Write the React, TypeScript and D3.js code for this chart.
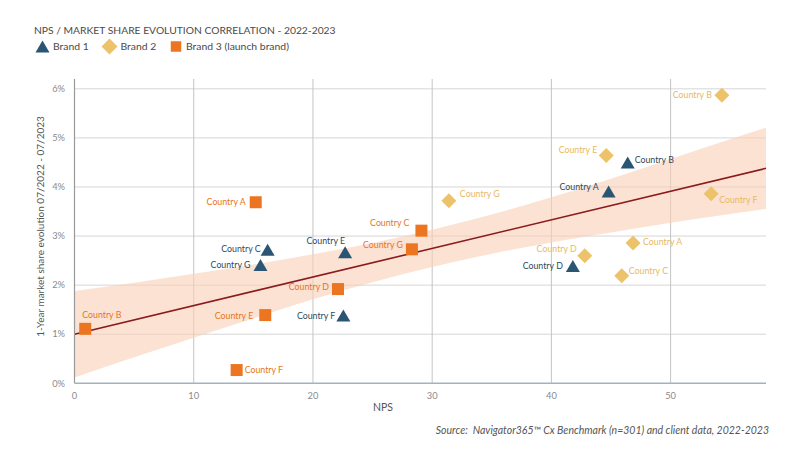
import * as d3 from "d3";

const countries = ["Country A", "Country B", "Country C", "Country D", "Country E", "Country F", "Country G"];

// Brand 1 (triangles)
const brand1Nps = [44.8, 46.4, 16.2, 41.8, 22.7, 22.55, 15.6];
const brand1Share = [3.91, 4.5, 2.72, 2.39, 2.67, 1.38, 2.41];
// Brand 2 (diamonds)
const brand2Nps = [46.85, 54.3, 45.9, 42.8, 44.6, 53.4, 31.4];
const brand2Share = [2.86, 5.87, 2.19, 2.6, 4.64, 3.86, 3.72];
// Brand 3 (squares, launch brand)
const brand3Nps = [15.2, 0.9, 29.1, 22.1, 16.0, 13.6, 28.3];
const brand3Share = [3.69, 1.11, 3.11, 1.92, 1.39, 0.27, 2.73];

// trend line + confidence band
const trendNps = [0, 58];
const trendShare = [1.0, 4.38];
const bandNps = [0, 5, 10, 15, 20, 25, 30, 35, 40, 45, 50, 55, 58];
const bandLow = [0.12, 0.53, 0.93, 1.32, 1.71, 2.06, 2.37, 2.64, 2.87, 3.07, 3.27, 3.45, 3.55];
const bandHigh = [1.88, 2.05, 2.23, 2.42, 2.63, 2.86, 3.13, 3.44, 3.79, 4.17, 4.57, 4.97, 5.21];

const xTicks = [0, 10, 20, 30, 40, 50];
const yTicks = [0, 1, 2, 3, 4, 5, 6];

// label placement per country: [dx, dy, anchor]
type Place = [number, number, "start" | "end"];
const brand1Labels: Place[] = [[-10, -4, "end"], [7, -3, "start"], [-7, -1, "end"], [-10, 0, "end"], [0, -11, "end"], [-8, 0, "end"], [-10, 0, "end"]];
const brand2Labels: Place[] = [[10, -1, "start"], [-10, 0, "end"], [7, -5, "start"], [-8, -7, "end"], [-9, -6, "end"], [8, 6, "start"], [11, -7, "start"]];
const brand3Labels: Place[] = [[-10, 0, "end"], [-3, -14, "start"], [-12, -8, "end"], [-9, -2, "end"], [-12, 1, "end"], [8, 0, "start"], [-9, -4, "end"]];

const BLUE = "#2b5673";
const BLUE_TEXT = "#2d4a5f";
const YELLOW = "#ecc36a";
const YELLOW_TEXT = "#e9b95e";
const ORANGE = "#ec7521";
const ORANGE_TEXT = "#e8741f";
const FONT = "Lato, 'Open Sans', sans-serif";

const triangle = (cx: number, cy: number, w = 14, h = 12) =>
  `M${cx},${cy - h / 2}L${cx + w / 2},${cy + h / 2}L${cx - w / 2},${cy + h / 2}Z`;
const diamond = (cx: number, cy: number, r = 7.5) =>
  `M${cx},${cy - r}L${cx + r},${cy}L${cx},${cy + r}L${cx - r},${cy}Z`;
const square = (cx: number, cy: number, s = 12) =>
  `M${cx - s / 2},${cy - s / 2}h${s}v${s}h${-s}Z`;

export default function App() {
  const width = 800;
  const height = 453;
  const x = d3.scaleLinear().domain([0, 58]).range([74.5, 766]);
  const y = d3.scaleLinear().domain([0, 6.2]).range([383.3, 79]);

  const band = d3
    .area<number>()
    .x((i) => x(bandNps[i]))
    .y0((i) => y(bandLow[i]))
    .y1((i) => y(bandHigh[i]))
    .curve(d3.curveMonotoneX);

  const series = [
    { nps: brand1Nps, share: brand1Share, labels: brand1Labels, shape: triangle, fill: BLUE, text: BLUE_TEXT },
    { nps: brand2Nps, share: brand2Share, labels: brand2Labels, shape: diamond, fill: YELLOW, text: YELLOW_TEXT },
    { nps: brand3Nps, share: brand3Share, labels: brand3Labels, shape: square, fill: ORANGE, text: ORANGE_TEXT },
  ];

  return (
    <div style={{ position: "absolute", left: 0, top: 0 }}>
      <svg width={width} height={height} style={{ display: "block", background: "#fff" }} fontFamily={FONT}>
        {/* title + legend */}
        <text x={34} y={34} fontSize={10.3} fill="#4a4a4a">
          NPS / MARKET SHARE EVOLUTION CORRELATION - 2022-2023
        </text>
        <path d={triangle(42.5, 46.5, 14, 12)} fill={BLUE} />
        <text x={53} y={50.3} fontSize={10.4} fill="#4a4a4a">Brand 1</text>
        <path d={diamond(109.5, 46.5, 8)} fill={YELLOW} />
        <text x={120.5} y={50.3} fontSize={10.4} fill="#4a4a4a">Brand 2</text>
        <path d={square(176, 46.5, 10.5)} fill={ORANGE} />
        <text x={186} y={50.3} fontSize={10.4} fill="#4a4a4a">Brand 3 (launch brand)</text>

        {/* grid */}
        {yTicks.filter((t) => t > 0).map((t) => (
          <line key={"h" + t} x1={x(0)} x2={x(58)} y1={y(t)} y2={y(t)} stroke="#d6d6d6" strokeWidth={1} />
        ))}
        {xTicks.filter((t) => t > 0).map((t) => (
          <line key={"v" + t} x1={x(t)} x2={x(t)} y1={y(6.2)} y2={y(0)} stroke="#c4c4c4" strokeWidth={1} />
        ))}

        {/* confidence band + trend */}
        <path d={band(d3.range(bandNps.length)) ?? ""} fill="#f9cfb6" fillOpacity={0.6} />
        <line
          x1={x(trendNps[0])}
          y1={y(trendShare[0])}
          x2={x(trendNps[1])}
          y2={y(trendShare[1])}
          stroke="#8b1a1d"
          strokeWidth={1.6}
        />

        {/* axes */}
        <line x1={x(0)} x2={x(0)} y1={y(6.2)} y2={y(0)} stroke="#9a9a9a" strokeWidth={1.2} />
        <line x1={x(0)} x2={x(58)} y1={y(0)} y2={y(0)} stroke="#a3b2bf" strokeWidth={1.6} />
        {yTicks.map((t) => (
          <text key={"yt" + t} x={65} y={y(t)} dy="0.35em" textAnchor="end" fontSize={9.3} fill="#8a8a8a">
            {t}%
          </text>
        ))}
        {xTicks.map((t) => (
          <text key={"xt" + t} x={x(t)} y={399} textAnchor="middle" fontSize={9.3} fill="#8a8a8a">
            {t}
          </text>
        ))}
        <text x={383} y={411} textAnchor="middle" fontSize={10.5} fill="#555">NPS</text>
        <text
          transform={`translate(44,${226.5}) rotate(-90)`}
          textAnchor="middle"
          fontSize={10}
          fill="#555"
        >
          1-Year market share evolution 07/2022 - 07/2023
        </text>

        {/* points */}
        {series.map((s, si) => (
          <g key={si}>
            {countries.map((c, i) => {
              const cx = x(s.nps[i]);
              const cy = y(s.share[i]);
              const [dx, dy, anchor] = s.labels[i];
              return (
                <g key={c}>
                  <path d={s.shape(cx, cy)} fill={s.fill} />
                  <text
                    x={cx + dx}
                    y={cy + dy}
                    dy="0.35em"
                    textAnchor={anchor}
                    fontSize={8.8}
                    fill={s.text}
                  >
                    {c}
                  </text>
                </g>
              );
            })}
          </g>
        ))}

        {/* source */}
        <text x={769} y={434} textAnchor="end" fontSize={10.5} fontStyle="italic" fill="#555" xmlSpace="preserve">
          Source:  Navigator365™ Cx Benchmark (n=301) and client data, 2022-2023
        </text>
      </svg>
    </div>
  );
}
